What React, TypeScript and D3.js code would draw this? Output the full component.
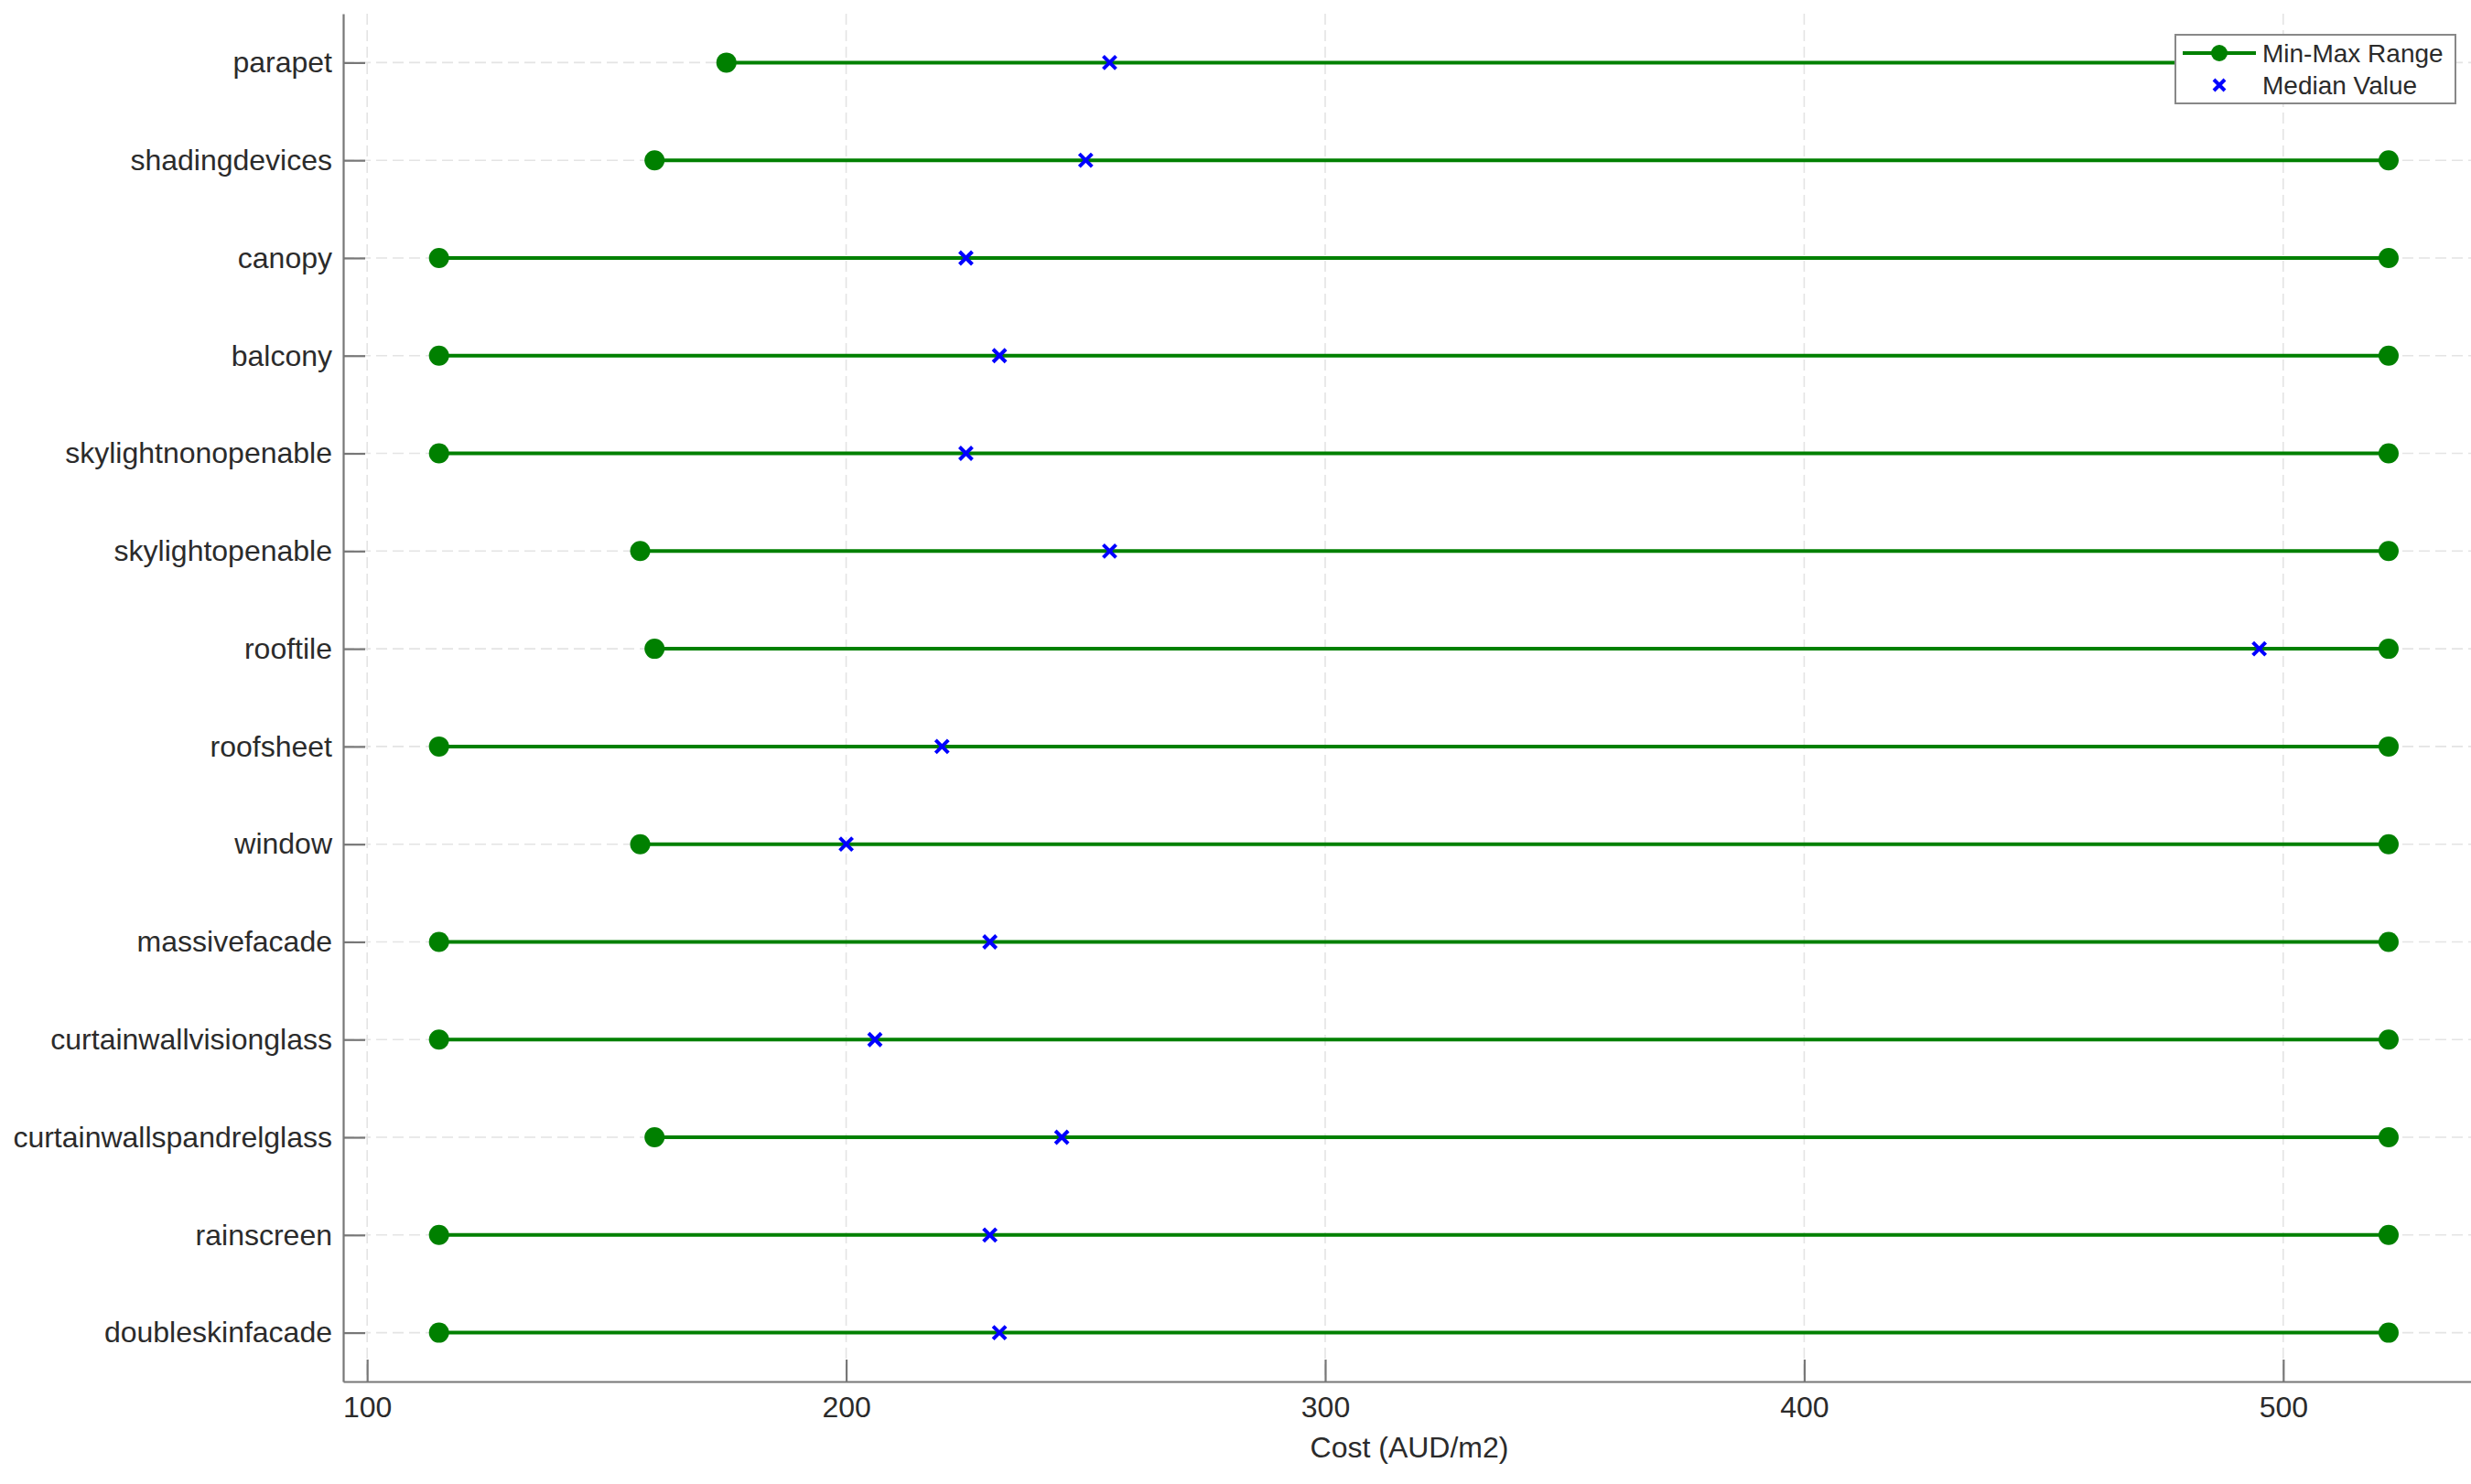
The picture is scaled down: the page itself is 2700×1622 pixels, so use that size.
import * as d3 from 'd3';
import React, { ReactElement, useEffect, useRef } from 'react';

const WIDTH = 2700;
const HEIGHT = 1622;
const FONT = '"Liberation Sans", Arial, sans-serif';

// top to bottom, as in the picture
const categories = [
  'parapet',
  'shadingdevices',
  'canopy',
  'balcony',
  'skylightnonopenable',
  'skylightopenable',
  'rooftile',
  'roofsheet',
  'window',
  'massivefacade',
  'curtainwallvisionglass',
  'curtainwallspandrelglass',
  'rainscreen',
  'doubleskinfacade',
];
const minValues = [175, 160, 115, 115, 115, 157, 160, 115, 157, 115, 115, 160, 115, 115];
const maxValues = [522, 522, 522, 522, 522, 522, 522, 522, 522, 522, 522, 522, 522, 522];
const medianValues = [255, 250, 225, 232, 225, 255, 495, 220, 200, 230, 206, 245, 230, 232];
const xTicks = [100, 200, 300, 400, 500];

const RangeChart = (): ReactElement => {
  const ref = useRef(null);

  const create = () => {
    const margin = { top: 15, right: 0, bottom: 112, left: 375 };
    const x = d3
      .scaleLinear()
      .domain([95, 539.2])
      .range([margin.left, WIDTH - margin.right]);
    const y = d3
      .scalePoint()
      .domain(categories)
      .range([margin.top, HEIGHT - margin.bottom])
      .padding(0.5);

    const rows = categories.map((c, i) => ({
      name: c,
      min: minValues[i],
      max: maxValues[i],
      median: medianValues[i],
    }));

    const svg = d3
      .select(ref.current)
      .append('svg')
      .attr('width', WIDTH)
      .attr('height', HEIGHT)
      .style('display', 'block')
      .style('background', '#fff')
      .style('font-family', FONT);

    const bottom = HEIGHT - margin.bottom;

    // grid
    svg
      .append('g')
      .selectAll('line')
      .data(xTicks)
      .enter()
      .append('line')
      .attr('x1', (d) => x(d))
      .attr('x2', (d) => x(d))
      .attr('y1', margin.top)
      .attr('y2', bottom)
      .attr('stroke', '#e4e4e4')
      .attr('stroke-width', 1.6)
      .attr('stroke-dasharray', '12,6');

    svg
      .append('g')
      .selectAll('line')
      .data(categories)
      .enter()
      .append('line')
      .attr('x1', margin.left)
      .attr('x2', WIDTH)
      .attr('y1', (d) => y(d))
      .attr('y2', (d) => y(d))
      .attr('stroke', '#e4e4e4')
      .attr('stroke-width', 1.6)
      .attr('stroke-dasharray', '12,6');

    // axes
    const xAxis = svg
      .append('g')
      .attr('transform', `translate(0, ${bottom})`)
      .call(d3.axisBottom(x).tickValues(xTicks).tickSize(-24).tickPadding(16).tickSizeOuter(0));
    xAxis.select('.domain').attr('stroke', '#777').attr('stroke-width', 2.2);
    xAxis.selectAll('.tick line').attr('stroke', '#777').attr('stroke-width', 2.2);
    xAxis
      .selectAll('.tick text')
      .attr('font-size', 32)
      .attr('font-family', FONT)
      .attr('fill', '#2b2b2b');

    const yAxis = svg
      .append('g')
      .attr('transform', `translate(${margin.left}, 0)`)
      .call(d3.axisLeft(y).tickSize(-24).tickPadding(12).tickSizeOuter(0));
    yAxis.select('.domain').attr('stroke', '#777').attr('stroke-width', 2.2);
    yAxis.selectAll('.tick line').attr('stroke', '#777').attr('stroke-width', 2.2);
    yAxis
      .selectAll('.tick text')
      .attr('font-size', 32)
      .attr('font-family', FONT)
      .attr('fill', '#2b2b2b');

    svg
      .append('text')
      .attr('x', 1540)
      .attr('y', 1593)
      .attr('text-anchor', 'middle')
      .attr('font-size', 32)
      .attr('fill', '#2b2b2b')
      .text('Cost (AUD/m2)');

    // ranges
    const plot = svg.append('g');
    plot
      .selectAll('line.range')
      .data(rows)
      .enter()
      .append('line')
      .attr('class', 'range')
      .attr('x1', (d) => x(d.min))
      .attr('x2', (d) => x(d.max))
      .attr('y1', (d) => y(d.name))
      .attr('y2', (d) => y(d.name))
      .attr('stroke', '#008000')
      .attr('stroke-width', 4);

    const ends = rows.flatMap((d) => [
      { name: d.name, v: d.min },
      { name: d.name, v: d.max },
    ]);
    plot
      .selectAll('circle')
      .data(ends)
      .enter()
      .append('circle')
      .attr('cx', (d) => x(d.v))
      .attr('cy', (d) => y(d.name))
      .attr('r', 11)
      .attr('fill', '#008000');

    const s = 7;
    plot
      .selectAll('path.median')
      .data(rows)
      .enter()
      .append('path')
      .attr('class', 'median')
      .attr('d', (d) => {
        const cx = x(d.median);
        const cy = y(d.name);
        return `M${cx - s},${cy - s}L${cx + s},${cy + s}M${cx - s},${cy + s}L${cx + s},${cy - s}`;
      })
      .attr('stroke', '#0000ff')
      .attr('stroke-width', 4)
      .attr('fill', 'none');

    // legend
    const lg = svg.append('g').attr('transform', 'translate(2377, 38)');
    lg.append('rect')
      .attr('width', 306)
      .attr('height', 75)
      .attr('fill', '#fff')
      .attr('stroke', '#888')
      .attr('stroke-width', 2);
    lg.append('line')
      .attr('x1', 8)
      .attr('x2', 88)
      .attr('y1', 20)
      .attr('y2', 20)
      .attr('stroke', '#008000')
      .attr('stroke-width', 4);
    lg.append('circle').attr('cx', 48).attr('cy', 20).attr('r', 9).attr('fill', '#008000');
    lg.append('path')
      .attr('d', `M${48 - 6},${55 - 6}L${48 + 6},${55 + 6}M${48 - 6},${55 + 6}L${48 + 6},${55 - 6}`)
      .attr('stroke', '#0000ff')
      .attr('stroke-width', 4);
    lg.append('text')
      .attr('x', 95)
      .attr('y', 20)
      .attr('dy', '0.35em')
      .attr('font-size', 28)
      .attr('fill', '#2b2b2b')
      .text('Min-Max Range');
    lg.append('text')
      .attr('x', 95)
      .attr('y', 55)
      .attr('dy', '0.35em')
      .attr('font-size', 28)
      .attr('fill', '#2b2b2b')
      .text('Median Value');
  };

  const clear = () => {
    d3.select(ref.current).selectAll('svg').remove();
  };

  useEffect(() => {
    document.body.style.margin = '0';
    create();
    return () => {
      clear();
    };
  }, []);

  return <div ref={ref}></div>;
};

export default function App(): ReactElement {
  return <RangeChart />;
}
